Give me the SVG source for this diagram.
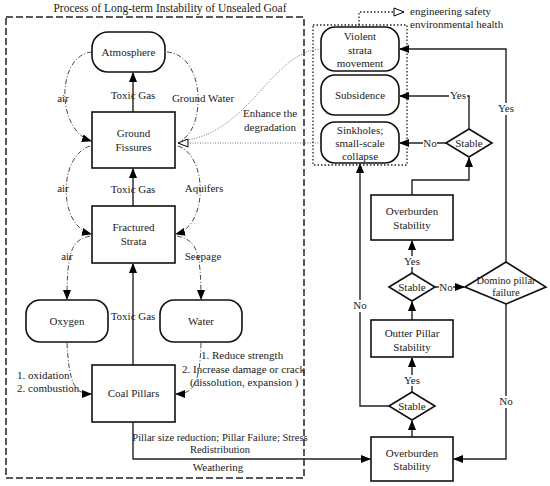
<svg xmlns="http://www.w3.org/2000/svg" width="550" height="486" viewBox="0 0 550 486" font-family="'Liberation Serif', 'Times New Roman', serif">
<defs>
<marker id="af" markerUnits="userSpaceOnUse" markerWidth="10" markerHeight="8" refX="9" refY="4" orient="auto"><path d="M0,0 L10,4 L0,8 Z" fill="#000"/></marker>
<marker id="ao" markerUnits="userSpaceOnUse" markerWidth="12" markerHeight="10" refX="11" refY="5" orient="auto"><path d="M1,1 L11,5 L1,9 Z" fill="#fff" stroke="#000" stroke-width="1"/></marker>
<style>
text{font-family:'Liberation Serif','Times New Roman',serif;font-size:11px;fill:#222;text-anchor:middle}
.box{fill:#fff;stroke:#111;stroke-width:1.6}
.ln{fill:none;stroke:#222;stroke-width:1.4}
.dd{fill:none;stroke:#333;stroke-width:0.9;stroke-dasharray:5,2,1,2}
.dot{fill:none;stroke:#777;stroke-width:1;stroke-dasharray:1,1.5}
.dotk{fill:none;stroke:#222;stroke-width:1.3;stroke-dasharray:1.5,2}
.lab{fill:#fff}
</style>
</defs>
<rect width="550" height="486" fill="#fff"/>
<text x="170" y="12" style="font-size:11.5px">Process of Long-term Instability of Unsealed Goaf</text>
<rect x="6" y="17" width="298" height="461" fill="none" stroke="#222" stroke-width="1.5" stroke-dasharray="7,3"/>

<g id="connectors">
<path class="ln" d="M133,112 V73" marker-end="url(#af)"/>
<path class="ln" d="M133,206 V169" marker-end="url(#af)"/>
<path class="ln" d="M133,365 V264" marker-end="url(#af)"/>
<path class="dd" d="M92,52 C56,55 56,130 91,141" marker-end="url(#af)"/>
<path class="dd" d="M167,52 C206,55 206,130 180,141"/>
<path class="dd" d="M90,146 C58,156 58,226 91,234" marker-end="url(#af)"/>
<path class="dd" d="M178,146 C208,156 208,226 176,234" marker-end="url(#af)"/>
<path class="dd" d="M90,236 C72,240 67,250 67,299" marker-end="url(#af)"/>
<path class="dd" d="M177,236 C196,240 201,250 201,299" marker-end="url(#af)"/>
<path class="dd" d="M67,343 C69,382 74,394 91,394" marker-end="url(#af)"/>
<path class="dd" d="M201,343 C200,382 194,394 176,394" marker-end="url(#af)"/>
<path class="ln" d="M133,422 V459 H370" marker-end="url(#af)"/>
<path class="dot" d="M321,49 C270,52 250,135 180,141"/>
<path class="dot" d="M321,143 H178" marker-end="url(#ao)"/>
<path class="dotk" d="M359,25 V12 H404" marker-end="url(#ao)"/>
<path class="ln" d="M469,129 V96 H400" marker-end="url(#af)"/>
<path class="ln" d="M446,143 H400" marker-end="url(#af)"/>
<path class="ln" d="M506,262 V49 H400" marker-end="url(#af)"/>
<path class="ln" d="M412,195 V180 H469 V158" marker-end="url(#af)"/>
<path class="ln" d="M412,273 V241" marker-end="url(#af)"/>
<path class="ln" d="M435,287 H464" marker-end="url(#af)"/>
<path class="ln" d="M412,320 V302" marker-end="url(#af)"/>
<path class="ln" d="M412,392 V358" marker-end="url(#af)"/>
<path class="ln" d="M389,406 H360 V164" marker-end="url(#af)"/>
<path class="ln" d="M412,437 V421" marker-end="url(#af)"/>
<path class="ln" d="M506,304 V459 H454" marker-end="url(#af)"/>
</g>

<g id="edge-labels">
<text x="133" y="99">Toxic Gas</text>
<text x="133" y="193">Toxic Gas</text>
<text x="133" y="320">Toxic Gas</text>
<text x="63" y="102">air</text>
<text x="203" y="102">Ground Water</text>
<text x="63" y="192">air</text>
<text x="204" y="192">Aquifers</text>
<text x="67" y="260">air</text>
<text x="203" y="260">Seepage</text>
<text x="270" y="117">Enhance the</text>
<text x="270" y="131">degradation</text>
<text x="17" y="379" style="text-anchor:start">1. oxidation</text>
<text x="17" y="392" style="text-anchor:start">2. combustion</text>
<text x="201" y="359" style="text-anchor:start">1. Reduce strength</text>
<text x="182" y="373" style="text-anchor:start">2. Increase damage or crack</text>
<text x="190" y="386" style="text-anchor:start">(dissolution, expansion )</text>
<text x="220" y="441" style="font-size:10.5px">Pillar size reduction; Pillar Failure; Stress</text>
<text x="220" y="453" style="font-size:10.5px">Redistribution</text>
<text x="218" y="471">Weathering</text>
<text x="410" y="15" style="text-anchor:start">engineering safety</text>
<text x="410" y="28" style="text-anchor:start">environmental health</text>
<rect class="lab" x="449" y="90" width="18" height="11"/>
<text x="458" y="99">Yes</text>
<rect class="lab" x="423" y="137" width="14" height="11"/>
<text x="430" y="147">No</text>
<rect class="lab" x="497" y="103" width="18" height="12"/>
<text x="506" y="112">Yes</text>
<rect class="lab" x="403" y="256" width="18" height="11"/>
<text x="412" y="265">Yes</text>
<rect class="lab" x="439" y="281" width="14" height="11"/>
<text x="446" y="291">No</text>
<rect class="lab" x="353" y="300" width="14" height="12"/>
<text x="360" y="309">No</text>
<rect class="lab" x="403" y="375" width="18" height="11"/>
<text x="412" y="384">Yes</text>
<rect class="lab" x="499" y="396" width="14" height="12"/>
<text x="506" y="405">No</text>
</g>

<g id="atmosphere"><rect class="box" x="92" y="32" width="73" height="40" rx="16"/><text x="128.5" y="56">Atmosphere</text></g>
<g id="ground-fissures"><rect class="box" x="92" y="112" width="83" height="56"/><text x="133.5" y="137">Ground</text><text x="133.5" y="151">Fissures</text></g>
<g id="fractured-strata"><rect class="box" x="92" y="206" width="83" height="57"/><text x="133.5" y="231">Fractured</text><text x="133.5" y="245">Strata</text></g>
<g id="oxygen"><rect class="box" x="26" y="300" width="82" height="42" rx="14"/><text x="67" y="325">Oxygen</text></g>
<g id="water"><rect class="box" x="160" y="300" width="82" height="42" rx="14"/><text x="201" y="325">Water</text></g>
<g id="coal-pillars"><rect class="box" x="92" y="365" width="83" height="57"/><text x="133.5" y="397">Coal Pillars</text></g>

<g id="outcomes"><rect x="313" y="25" width="94" height="140" fill="none" stroke="#222" stroke-width="1.3" stroke-dasharray="1.5,2"/></g>
<g id="violent"><rect class="box" x="321" y="27" width="78" height="44" rx="14"/><text x="360" y="40">Violent</text><text x="360" y="54">strata</text><text x="360" y="67">movement</text></g>
<g id="subsidence"><rect class="box" x="321" y="75" width="78" height="40" rx="14"/><text x="360" y="99">Subsidence</text></g>
<g id="sinkholes"><rect class="box" x="321" y="122" width="78" height="41" rx="14"/><text x="360" y="134">Sinkholes;</text><text x="360" y="147">small-scale</text><text x="360" y="160">collapse</text></g>
<g id="stable-top"><path class="box" d="M446,143 L469,129 L492,143 L469,157 Z"/><text x="469" y="147">Stable</text></g>
<g id="overburden-upper"><rect class="box" x="371" y="195" width="82" height="45"/><text x="412" y="215">Overburden</text><text x="412" y="229">Stability</text></g>
<g id="stable-mid"><path class="box" d="M389,287 L412,273 L435,287 L412,301 Z"/><text x="412" y="291">Stable</text></g>
<g id="domino"><path class="box" d="M465,287 L506,262 L546,287 L506,304 Z"/><text x="506" y="284" style="font-size:10.5px">Domino pillar</text><text x="506" y="296" style="font-size:10.5px">failure</text></g>
<g id="outter-pillar"><rect class="box" x="371" y="320" width="82" height="37"/><text x="412" y="337">Outter Pillar</text><text x="412" y="351">Stability</text></g>
<g id="stable-low"><path class="box" d="M389,406 L412,392 L435,406 L412,420 Z"/><text x="412" y="410">Stable</text></g>
<g id="overburden-lower"><rect class="box" x="371" y="437" width="82" height="44"/><text x="412" y="457">Overburden</text><text x="412" y="470">Stability</text></g>
</svg>
